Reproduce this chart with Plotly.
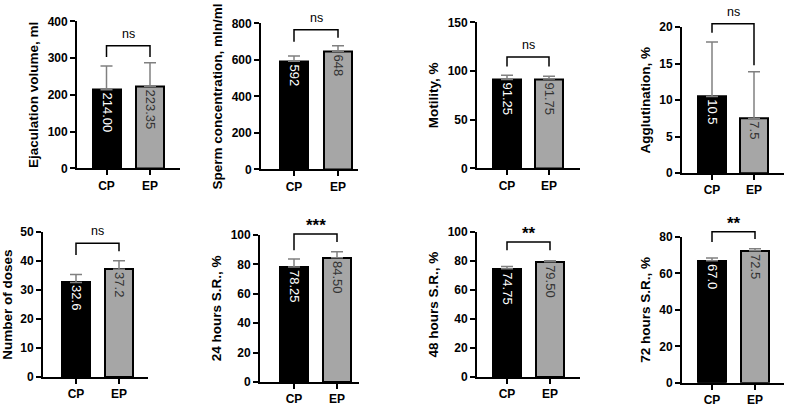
import plotly.graph_objects as go

# ---------------- data ----------------
groups = ["CP", "EP"]
metrics = ["Ejaculation volume, ml", "Sperm concentration, mln/ml", "Motility, %",
           "Agglutination, %", "Number of doses", "24 hours S.R., %",
           "48 hours S.R., %", "72 hours S.R., %"]
cp_mean = [214.00, 592, 91.25, 10.5, 32.6, 78.25, 74.75, 67.0]
ep_mean = [223.35, 648, 91.75, 7.5, 37.2, 84.50, 79.50, 72.5]
cp_err = [65, 30, 4.5, 7.5, 2.8, 5.4, 1.5, 1.5]
ep_err = [64, 30, 3.0, 6.4, 2.9, 4.1, 0.7, 1.0]
cp_label = ["214.00", "592", "91.25", "10.5", "32.6", "78.25", "74.75", "67.0"]
ep_label = ["223.35", "648", "91.75", "7.5", "37.2", "84.50", "79.50", "72.5"]
significance = ["ns", "ns", "ns", "ns", "ns", "***", "**", "**"]
y_max = [400, 800, 150, 20, 50, 100, 100, 80]
y_step = [100, 200, 50, 5, 10, 20, 20, 20]
# comparison bracket levels (data units): top, CP leg end, EP leg end
bracket_top = [334, 766, 114.5, 20.5, 46.2, 100.7, 93.1, 82.8]
bracket_cp_end = [303, 700, 104.6, 19.25, 42.1, 89.7, 87.5, 77.2]
bracket_ep_end = [303, 722, 104.6, 14.8, 43.4, 95.2, 87.5, 78.9]

# ---------------- layout geometry (pixels) ----------------
W, H = 793, 414
# axis start, axis end, CP centre, EP centre, top, bottom
geom = [
    (77, 180, 106.5, 150, 15, 167),
    (261, 358, 294, 338, 17, 168),
    (477, 580, 507, 549, 16, 167),
    (682, 784, 712, 754, 21, 172),
    (43, 148, 76, 119, 233, 383),
    (260, 359, 294, 337, 236, 388),
    (477, 580, 507, 550, 233, 383),
    (682, 784, 712, 755, 238, 389),
]

FONT = "Arial, Liberation Sans, Helvetica, sans-serif"
fig = go.Figure()
layout = {}
shapes = []
annotations = []

for i in range(8):
    a, b, c0, c1, yt, yb = geom[i]
    upx = 1.0 / (c1 - c0)
    r0 = -(c0 - a) * upx
    r1 = 1 + (b - c1) * upx
    xn = "x" if i == 0 else f"x{i+1}"
    yn = "y" if i == 0 else f"y{i+1}"
    xk = "xaxis" if i == 0 else f"xaxis{i+1}"
    yk = "yaxis" if i == 0 else f"yaxis{i+1}"

    fig.add_trace(go.Bar(
        x=groups, y=[cp_mean[i], ep_mean[i]], xaxis=xn, yaxis=yn,
        width=28 * upx,
        marker=dict(color=["#000000", "#a6a6a6"], line=dict(color="#000000", width=2)),
        text=[cp_label[i], ep_label[i]], textposition="inside", textangle=90,
        insidetextanchor="end", constraintext="none",
        textfont=dict(family=FONT, size=13, color=["#ffffff", "#333333"]),
        error_y=dict(type="data", symmetric=False, array=[cp_err[i], ep_err[i]],
                     arrayminus=[0, 0], color="#808080", thickness=1.5, width=6),
        showlegend=False, hoverinfo="skip", cliponaxis=False,
    ))

    layout[xk] = dict(
        domain=[a / W, b / W], anchor=yn, range=[r0, r1], type="category",
        showline=True, linecolor="black", linewidth=1.8, ticks="outside",
        ticklen=5, tickwidth=1.5, tickcolor="black", showgrid=False, zeroline=False,
        tickfont=dict(family=FONT, size=12, color="black", weight="bold"),
        fixedrange=True,
    )
    layout[yk] = dict(
        domain=[1 - yb / H, 1 - yt / H], anchor=xn, range=[0, y_max[i]],
        dtick=y_step[i], tick0=0,
        showline=True, linecolor="black", linewidth=1.8, ticks="outside",
        ticklen=5, tickwidth=1.5, tickcolor="black", showgrid=False, zeroline=False,
        tickfont=dict(family=FONT, size=12, color="black", weight="bold"),
        title=dict(text=metrics[i], standoff=6,
                   font=dict(family=FONT, size=13.5, color="black", weight="bold")),
        fixedrange=True,
    )

    # bracket, in axis-domain coordinates so it may rise above the axis range
    def fx(v):
        return (v - r0) / (r1 - r0)

    def fy(v, m=y_max[i]):
        return v / m

    xd, yd = f"{xn} domain", f"{yn} domain"
    shapes.append(dict(
        type="path", xref=xd, yref=yd,
        path=(f"M {fx(0)},{fy(bracket_cp_end[i])} L {fx(0)},{fy(bracket_top[i])} "
              f"L {fx(1)},{fy(bracket_top[i])} L {fx(1)},{fy(bracket_ep_end[i])}"),
        line=dict(color="black", width=1.5),
    ))
    is_ns = significance[i] == "ns"
    annotations.append(dict(
        xref=xd, yref=yd, x=fx(0.5), y=fy(bracket_top[i]), text=significance[i],
        showarrow=False, yanchor="bottom", yshift=3 if is_ns else -3,
        font=dict(family=FONT, size=12.5 if is_ns else 17, color="black",
                  weight="normal" if is_ns else "bold"),
    ))

fig.update_layout(
    width=W, height=H, margin=dict(l=0, r=0, t=0, b=0),
    paper_bgcolor="white", plot_bgcolor="white",
    shapes=shapes, annotations=annotations, bargap=0,
    **layout,
)
fig.write_html("out.html", config={"displayModeBar": False})
